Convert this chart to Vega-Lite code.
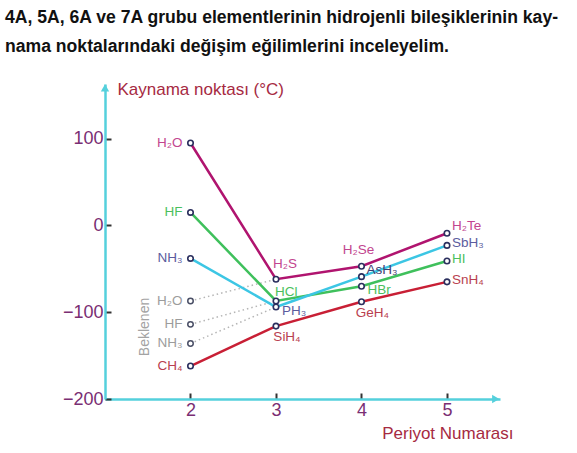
{
  "$schema": "https://vega.github.io/schema/vega-lite/v6.json",
  "width": 395,
  "height": 315,
  "autosize": "none",
  "padding": {"left": 105, "top": 84, "right": 77, "bottom": 54},
  "background": "white",
  "config": {"view": {"stroke": null}, "font": "Liberation Sans"},
  "title": {
    "text": ["4A, 5A, 6A ve 7A grubu elementlerinin hidrojenli bileşiklerinin kay-", "nama noktalarındaki değişim eğilimlerini inceleyelim."],
    "anchor": "start",
    "frame": "group",
    "dx": -100,
    "offset": 24,
    "fontSize": 17.6,
    "fontWeight": "bold",
    "font": "Liberation Sans",
    "lineHeight": 29,
    "color": "#111111"
  },
  "datasets": {
    "pts": [
      {"grp": "6A", "period": 2, "bp": 95, "name": "H₂O"},
      {"grp": "6A", "period": 3, "bp": -62, "name": "H₂S"},
      {"grp": "6A", "period": 4, "bp": -47, "name": "H₂Se"},
      {"grp": "6A", "period": 5, "bp": -9, "name": "H₂Te"},
      {"grp": "7A", "period": 2, "bp": 15, "name": "HF"},
      {"grp": "7A", "period": 3, "bp": -87, "name": "HCl"},
      {"grp": "7A", "period": 4, "bp": -70, "name": "HBr"},
      {"grp": "7A", "period": 5, "bp": -41, "name": "HI"},
      {"grp": "5A", "period": 2, "bp": -38, "name": "NH₃"},
      {"grp": "5A", "period": 3, "bp": -94, "name": "PH₃"},
      {"grp": "5A", "period": 4, "bp": -59, "name": "AsH₃"},
      {"grp": "5A", "period": 5, "bp": -23, "name": "SbH₃"},
      {"grp": "4A", "period": 2, "bp": -162, "name": "CH₄"},
      {"grp": "4A", "period": 3, "bp": -116, "name": "SiH₄"},
      {"grp": "4A", "period": 4, "bp": -88, "name": "GeH₄"},
      {"grp": "4A", "period": 5, "bp": -65, "name": "SnH₄"}
    ],
    "dots": [
      {"grp": "6A", "period": 2, "bp": -87, "name": "H₂O"},
      {"grp": "6A", "period": 3, "bp": -62, "name": ""},
      {"grp": "7A", "period": 2, "bp": -114, "name": "HF"},
      {"grp": "7A", "period": 3, "bp": -87, "name": ""},
      {"grp": "5A", "period": 2, "bp": -136, "name": "NH₃"},
      {"grp": "5A", "period": 3, "bp": -94, "name": ""}
    ]
  },
  "encoding": {
    "x": {
      "field": "period",
      "type": "quantitative",
      "scale": {"domain": [1, 5.62], "nice": false, "zero": false},
      "axis": {
        "values": [2, 3, 4, 5],
        "grid": false,
        "domainColor": "#55d0dc",
        "domainWidth": 2.5,
        "tickColor": "#333333",
        "tickSize": -6,
        "tickWidth": 2,
        "labelPadding": 8,
        "labelFontSize": 18,
        "labelColor": "#7a2e73",
        "labelFont": "Liberation Sans",
        "title": "Periyot Numarası",
        "titleFont": "Liberation Sans",
        "titleFontSize": 17,
        "titleFontWeight": "normal",
        "titleColor": "#a62a42",
        "titleX": 408,
        "titleY": 39,
        "titleAlign": "right",
        "titleBaseline": "alphabetic"
      }
    },
    "y": {
      "field": "bp",
      "type": "quantitative",
      "scale": {"domain": [-200, 163], "nice": false, "zero": false},
      "axis": {
        "values": [-200, -100, 0, 100],
        "grid": false,
        "domainColor": "#55d0dc",
        "domainWidth": 2.5,
        "tickColor": "#333333",
        "tickSize": -6,
        "tickWidth": 2,
        "labelPadding": 8,
        "labelFontSize": 18,
        "labelColor": "#7a2e73",
        "labelFont": "Liberation Sans",
        "title": "Kaynama noktası (°C)",
        "titleFont": "Liberation Sans",
        "titleFontSize": 17,
        "titleFontWeight": "normal",
        "titleColor": "#a62a42",
        "titleAngle": 0,
        "titleX": 12,
        "titleY": 10,
        "titleAlign": "left",
        "titleBaseline": "alphabetic"
      }
    }
  },
  "layer": [
    {
      "data": {"name": "dots"},
      "mark": {"type": "line", "color": "#b5b5b5", "strokeWidth": 1.5, "strokeDash": [1.5, 3]},
      "encoding": {"detail": {"field": "grp"}}
    },
    {
      "data": {"name": "pts"},
      "mark": {"type": "line", "strokeWidth": 2.5},
      "encoding": {
        "color": {
          "field": "grp",
          "type": "nominal",
          "scale": {"domain": ["6A", "7A", "5A", "4A"], "range": ["#b0146f", "#3fc05c", "#3cc6e4", "#c81f35"]},
          "legend": null
        }
      }
    },
    {
      "data": {"name": "dots"},
      "transform": [{"filter": "datum.period == 2"}],
      "mark": {"type": "point", "shape": "circle", "filled": true, "fill": "white", "stroke": "#4a4f66", "strokeWidth": 1.5, "size": 30, "opacity": 1}
    },
    {
      "data": {"name": "pts"},
      "mark": {"type": "point", "shape": "circle", "filled": true, "fill": "white", "stroke": "#2b2f5e", "strokeWidth": 1.6, "size": 30, "opacity": 1}
    },
    {
      "data": {"name": "dots"},
      "transform": [{"filter": "datum.period == 2"}],
      "mark": {"type": "text", "align": "right", "baseline": "middle", "dx": -8, "fontSize": 13.5, "color": "#9c9c9c"},
      "encoding": {"text": {"field": "name"}}
    },
    {
      "data": {"values": [{"period": 1.47, "bp": -117, "label": "Beklenen"}]},
      "mark": {"type": "text", "angle": 270, "align": "center", "baseline": "middle", "fontSize": 14, "color": "#a3a3a3"},
      "encoding": {"text": {"field": "label"}}
    },
    {
      "data": {"name": "pts"},
      "transform": [{"filter": "datum.period == 2"}],
      "mark": {"type": "text", "align": "right", "baseline": "middle", "dx": -8, "fontSize": 13.5},
      "encoding": {
        "text": {"field": "name"},
        "color": {"field": "grp", "type": "nominal", "scale": {"domain": ["6A", "7A", "5A", "4A"], "range": ["#c2458f", "#4bbf5e", "#5b5c9e", "#b93f50"]}, "legend": null}
      }
    },
    {
      "data": {"name": "pts"},
      "transform": [{"filter": {"field": "name", "oneOf": ["H₂S"]}}],
      "mark": {"type": "text", "align": "center", "baseline": "middle", "dx": 9, "dy": -15, "fontSize": 13.5},
      "encoding": {
        "text": {"field": "name"},
        "color": {"field": "grp", "type": "nominal", "scale": {"domain": ["6A", "7A", "5A", "4A"], "range": ["#c2458f", "#4bbf5e", "#5b5c9e", "#b93f50"]}, "legend": null}
      }
    },
    {
      "data": {"name": "pts"},
      "transform": [{"filter": {"field": "name", "oneOf": ["H₂Se"]}}],
      "mark": {"type": "text", "align": "center", "baseline": "middle", "dx": -3, "dy": -16, "fontSize": 13.5},
      "encoding": {
        "text": {"field": "name"},
        "color": {"field": "grp", "type": "nominal", "scale": {"domain": ["6A", "7A", "5A", "4A"], "range": ["#c2458f", "#4bbf5e", "#5b5c9e", "#b93f50"]}, "legend": null}
      }
    },
    {
      "data": {"name": "pts"},
      "transform": [{"filter": {"field": "name", "oneOf": ["HCl"]}}],
      "mark": {"type": "text", "align": "left", "baseline": "middle", "dx": -1, "dy": -9, "fontSize": 13.5},
      "encoding": {
        "text": {"field": "name"},
        "color": {"field": "grp", "type": "nominal", "scale": {"domain": ["6A", "7A", "5A", "4A"], "range": ["#c2458f", "#4bbf5e", "#5b5c9e", "#b93f50"]}, "legend": null}
      }
    },
    {
      "data": {"name": "pts"},
      "transform": [{"filter": {"field": "name", "oneOf": ["AsH₃", "H₂Te"]}}],
      "mark": {"type": "text", "align": "left", "baseline": "middle", "dx": 5, "dy": -7, "fontSize": 13.5},
      "encoding": {
        "text": {"field": "name"},
        "color": {"field": "grp", "type": "nominal", "scale": {"domain": ["6A", "7A", "5A", "4A"], "range": ["#c2458f", "#4bbf5e", "#3f4070", "#b93f50"]}, "legend": null}
      }
    },
    {
      "data": {"name": "pts"},
      "transform": [{"filter": {"field": "name", "oneOf": ["PH₃", "HBr"]}}],
      "mark": {"type": "text", "align": "left", "baseline": "middle", "dx": 6, "dy": 4, "fontSize": 13.5},
      "encoding": {
        "text": {"field": "name"},
        "color": {"field": "grp", "type": "nominal", "scale": {"domain": ["6A", "7A", "5A", "4A"], "range": ["#c2458f", "#4bbf5e", "#5b5c9e", "#b93f50"]}, "legend": null}
      }
    },
    {
      "data": {"name": "pts"},
      "transform": [{"filter": {"field": "name", "oneOf": ["SbH₃", "HI", "SnH₄"]}}],
      "mark": {"type": "text", "align": "left", "baseline": "middle", "dx": 5, "dy": -2, "fontSize": 13.5},
      "encoding": {
        "text": {"field": "name"},
        "color": {"field": "grp", "type": "nominal", "scale": {"domain": ["6A", "7A", "5A", "4A"], "range": ["#c2458f", "#4bbf5e", "#5b5c9e", "#b93f50"]}, "legend": null}
      }
    },
    {
      "data": {"name": "pts"},
      "transform": [{"filter": {"field": "name", "oneOf": ["SiH₄", "GeH₄"]}}],
      "mark": {"type": "text", "align": "center", "baseline": "middle", "dx": 11, "dy": 11, "fontSize": 13.5},
      "encoding": {
        "text": {"field": "name"},
        "color": {"field": "grp", "type": "nominal", "scale": {"domain": ["6A", "7A", "5A", "4A"], "range": ["#c2458f", "#4bbf5e", "#5b5c9e", "#b93f50"]}, "legend": null}
      }
    },
    {
      "data": {"values": [{"period": 1, "bp": 158.5}]},
      "mark": {"type": "point", "shape": "triangle-up", "filled": true, "color": "#55d0dc", "size": 70, "opacity": 1, "clip": false}
    },
    {
      "data": {"values": [{"period": 5.57, "bp": -200}]},
      "mark": {"type": "point", "shape": "triangle-right", "filled": true, "color": "#55d0dc", "size": 70, "opacity": 1, "clip": false}
    }
  ],
  "resolve": {"scale": {"color": "independent"}}
}
